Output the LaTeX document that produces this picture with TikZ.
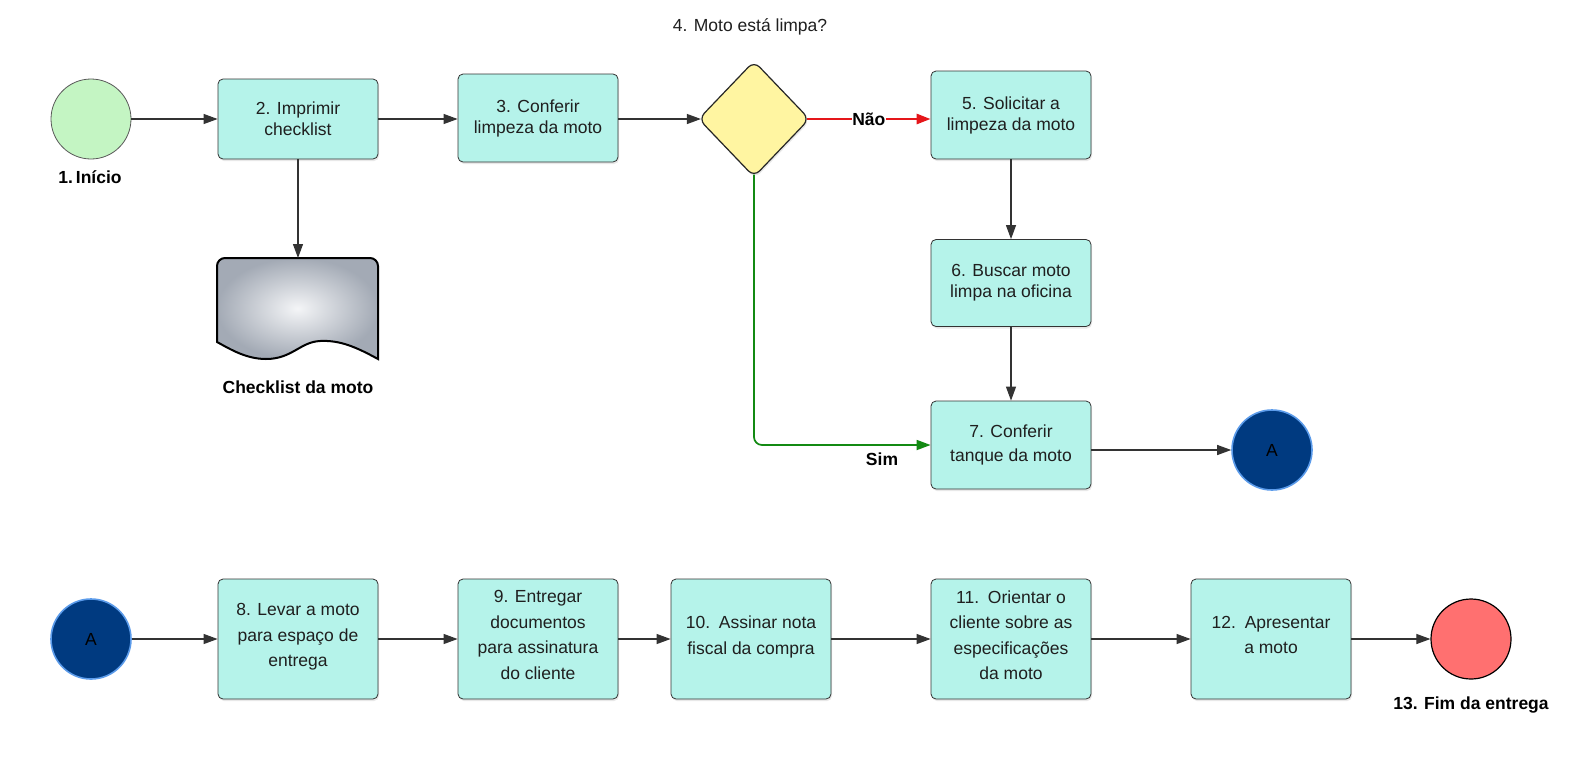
\documentclass[tikz,border=0pt]{standalone}
\usepackage{fontspec}
\setmainfont{Liberation Sans}
\usetikzlibrary{arrows.meta,shapes.geometric,shadows}
\definecolor{boxc}{HTML}{B5F3EA}
\definecolor{edgec}{HTML}{333333}
\definecolor{diac}{HTML}{FFF5A1}
\definecolor{startc}{HTML}{C4F5C3}
\definecolor{conc}{HTML}{003A80}
\definecolor{conedge}{HTML}{5B9BEA}
\definecolor{endc}{HTML}{FF7070}
\definecolor{redc}{HTML}{E5161A}
\definecolor{greenc}{HTML}{138A13}
\definecolor{docin}{HTML}{F4F5F7}
\definecolor{docout}{HTML}{A3AAB5}
\begin{document}
\begin{tikzpicture}[x=1pt,y=-1pt,
  txt/.style={font=\fontsize{17.5}{21}\selectfont, text=black!88},
  boldtxt/.style={font=\fontsize{17.5}{21}\selectfont\bfseries, text=black},
  shad/.style={drop shadow={opacity=0.18, shadow xshift=1pt, shadow yshift=-2pt}},
  topbox/.style={draw=edgec, fill=boxc, rounded corners=5pt, line width=0.8pt,
    minimum width=160pt, minimum height=88pt, align=center, inner sep=2pt,
    font=\fontsize{17.5}{21}\selectfont, text=black!88, shad},
  lowbox/.style={topbox, minimum height=120pt, font=\fontsize{17.5}{25.5}\selectfont},
  circ/.style={circle, minimum size=80pt, inner sep=0pt, font=\fontsize{17.5}{21}\selectfont},
  conn/.style={draw=edgec, line width=1.1pt, -{Triangle[length=14pt,width=10pt]}},
]
\fill[white] (0,0) rectangle (1592,769);
\useasboundingbox (0,0) rectangle (1592,769);

% top row
\node[circ, draw=black!65, fill=startc, line width=0.8pt] (start) at (91,119) {};
\node[boldtxt] (startlbl) at (90,177) {1.\,Início};
\node[topbox, minimum height=80pt] (b2) at (298,119) {2. Imprimir\\checklist};
\node[topbox] (b3) at (538,118) {3. Conferir\\limpeza da moto};
\node[diamond, draw=black!85, fill=diac, line width=1.2pt, rounded corners=8pt,
  minimum width=111pt, minimum height=116pt, inner sep=0pt, shad] (d4) at (754,119) {};
\node[txt] (d4lbl) at (750,27) {4. Moto está limpa?};
\node[topbox] (b5) at (1011,115) {5. Solicitar a\\limpeza da moto};
\node[topbox, minimum height=87pt] (b6) at (1011,283) {6. Buscar moto\\limpa na oficina};
\node[topbox, font=\fontsize{17.5}{24}\selectfont] (b7) at (1011,445) {7. Conferir\\tanque da moto};
\node[circ, draw=conedge, fill=conc, line width=1.6pt] (A1) at (1272,450) {A};

% document
\coordinate (doctop) at (298,258);
\shadedraw[inner color=docin, outer color=docout, draw=black, line width=2pt]
  (217,342) [rounded corners=8pt] -- (217,258) -- (378,258) [sharp corners] -- (378,359)
  .. controls (356,347) and (340,340) .. (320,341)
  .. controls (300,342) and (292,359) .. (266,359)
  .. controls (246,359) and (230,349) .. (217,342) -- cycle;
\node[boldtxt] (doclbl) at (298,387) {Checklist da moto};

% bottom row
\node[circ, draw=conedge, fill=conc, line width=1.6pt] (A2) at (91,639) {A};
\node[lowbox] (b8) at (298,639) {8. Levar a moto\\para espaço de\\entrega\rule[-8pt]{0pt}{8pt}};
\node[lowbox] (b9) at (538,639) {9. Entregar\\documentos\\para assinatura\\do cliente\rule[-8pt]{0pt}{8pt}};
\node[lowbox] (b10) at (751,639) {10.\enspace Assinar nota\\fiscal da compra\rule[-8pt]{0pt}{8pt}};
\node[lowbox] (b11) at (1011,639) {11.\enspace Orientar o\\cliente sobre as\\especificações\\da moto\rule[-8pt]{0pt}{8pt}};
\node[lowbox] (b12) at (1271,639) {12.\enspace Apresentar\\a moto\rule[-8pt]{0pt}{8pt}};
\node[circ, draw=black, fill=endc, line width=1.2pt] (end) at (1471,639) {};
\node[boldtxt] (endlbl) at (1471,705) {13. Fim da entrega};

% connectors top
\draw[conn] (start.east) -- (b2.west);
\draw[conn] (b2.east) -- (b2.east -| b3.west);
\draw[conn] (b3.east |- d4.west) -- ([xshift=3pt]d4.west);
\draw[conn, draw=redc, line width=2.6pt, -{Triangle[length=14pt,width=10pt]}]
  ([xshift=-3pt]d4.east) -- (d4.east -| b5.west)
  node[pos=0.5, fill=white, inner sep=0.5pt, boldtxt] (nao) {Não};
\draw[conn, draw=greenc, line width=1.7pt, rounded corners=8pt]
  ([yshift=3pt]d4.south) |- (b7.west);
\node[boldtxt] (sim) at (882,459) {Sim};
\draw[conn] (b5.south) -- (b6.north);
\draw[conn] (b6.south) -- (b7.north);
\draw[conn] (b7.east |- A1.west) -- (A1.west);
\draw[conn] (b2.south) -- (doctop);

% connectors bottom
\draw[conn] (A2.east) -- (b8.west);
\draw[conn] (b8.east) -- (b9.west);
\draw[conn] (b9.east) -- (b10.west);
\draw[conn] (b10.east) -- (b11.west);
\draw[conn] (b11.east) -- (b12.west);
\draw[conn] (b12.east) -- (end.west);
\end{tikzpicture}
\end{document}
